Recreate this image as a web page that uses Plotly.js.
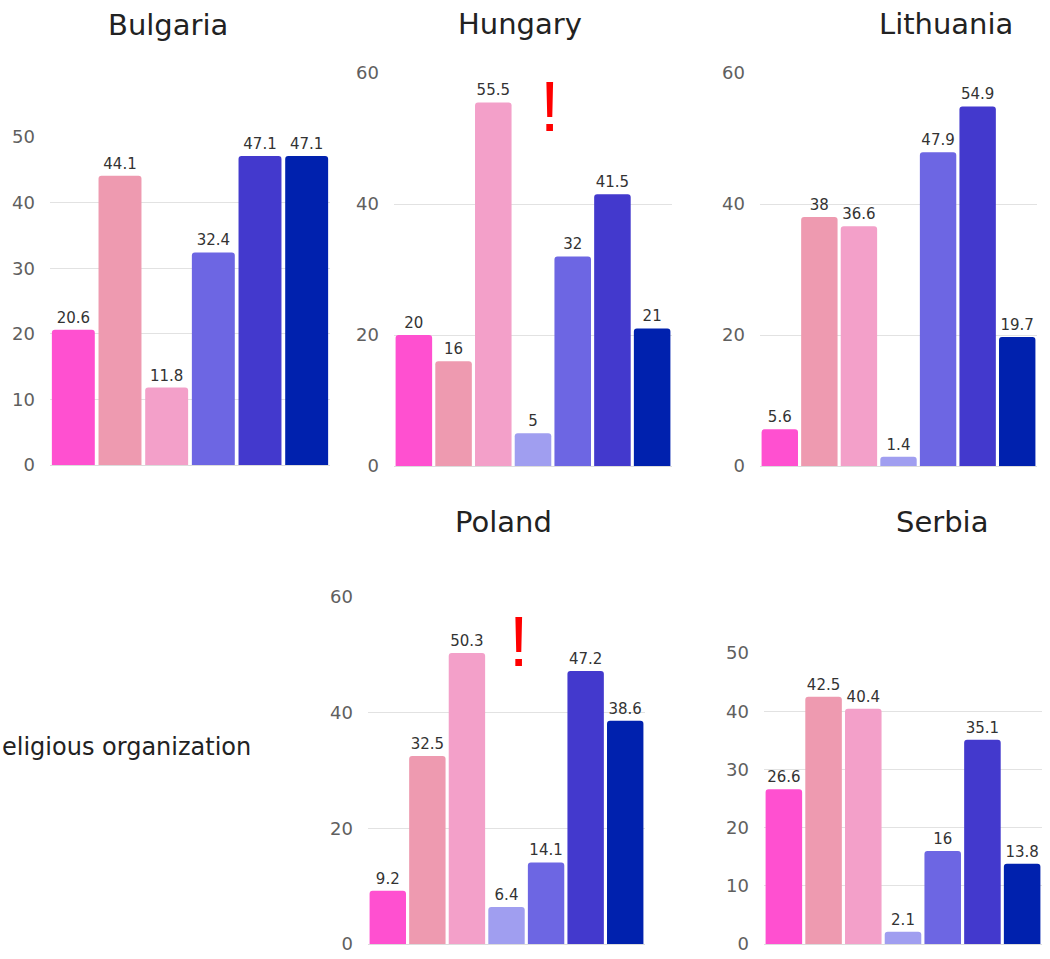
<!DOCTYPE html>
<html>
<head>
<meta charset="utf-8">
<script src="https://cdn.plot.ly/plotly-3.0.1.min.js"></script>
<style>html,body{margin:0;padding:0;background:#fff;}#chart{width:1050px;height:959px;}</style>
</head>
<body>
<div id="chart"></div>
<script>
// Data
const categories = ['Cat 1', 'Cat 2', 'Cat 3', 'Cat 4', 'Cat 5', 'Cat 6', 'Cat 7'];
const barColors = ['#FF50D0', '#EE9AB0', '#F3A0C9', '#A09EF0', '#6D66E3', '#4339CD', '#0021AE'];
const countries = ['Bulgaria', 'Hungary', 'Lithuania', 'Poland', 'Serbia'];
const bulgaria  = [20.6, 44.1, 11.8, null, 32.4, 47.1, 47.1];
const hungary   = [20, 16, 55.5, 5, 32, 41.5, 21];
const lithuania = [5.6, 38, 36.6, 1.4, 47.9, 54.9, 19.7];
const poland    = [9.2, 32.5, 50.3, 6.4, 14.1, 47.2, 38.6];
const serbia    = [26.6, 42.5, 40.4, 2.1, 16, 35.1, 13.8];
const yMax = [50, 60, 60, 60, 50];
const legendText = 'eligious organization';

const W = 1050, H = 959;
const fx = p => p / W;
const fy = p => (H - p) / H;

// panel boxes in pixels: [left, right, top(at yMax), bottom(0)]
const boxes = [
  [50, 330, 137, 465],
  [394, 672, 73, 466],
  [760, 1037, 73, 466],
  [368, 645, 597, 944],
  [764, 1042, 653, 944]
];
const titlePos = [[168, 25], [520, 24], [946, 24], [503, 522], [942, 522]];
const seriesList = [bulgaria, hungary, lithuania, poland, serbia];

const fontMain = 'Century Gothic, URW Gothic, DejaVu Sans, sans-serif';
const fontTick = 'Segoe UI, DejaVu Sans, sans-serif';

const traces = [];
const layout = {
  width: W, height: H,
  margin: {l: 0, r: 0, t: 0, b: 0},
  paper_bgcolor: '#fff', plot_bgcolor: '#fff',
  showlegend: false,
  bargap: 0.08,
  annotations: [],
  font: {family: fontMain}
};

seriesList.forEach((vals, i) => {
  const xs = [], ys = [], cs = [], ts = [];
  vals.forEach((v, j) => {
    if (v === null) return;
    xs.push(categories[j]); ys.push(v); cs.push(barColors[j]); ts.push(String(v));
  });
  const n = i === 0 ? '' : String(i + 1);
  traces.push({
    type: 'bar', x: xs, y: ys, xaxis: 'x' + n, yaxis: 'y' + n,
    marker: {color: cs, cornerradius: 3},
    text: ts, textposition: 'outside', cliponaxis: false,
    textfont: {family: fontMain, size: 15, color: '#333'},
    hoverinfo: 'x+y'
  });
  const b = boxes[i];
  layout['xaxis' + n] = {
    domain: [fx(b[0]), fx(b[1])], anchor: 'y' + n,
    showticklabels: false, showgrid: false, zeroline: false, showline: false,
    ticks: '', fixedrange: true
  };
  layout['yaxis' + n] = {
    domain: [fy(b[3]), fy(b[2])], anchor: 'x' + n,
    range: [0, yMax[i]], dtick: yMax[i] === 50 ? 10 : 20,
    showgrid: true, gridcolor: '#e2e2e2', gridwidth: 1,
    zeroline: true, zerolinecolor: '#dcdcdc',
    ticks: '', ticklabelstandoff: 14,
    tickfont: {family: fontTick, size: 18, color: '#5f5f5f'},
    fixedrange: true
  };
  layout.annotations.push({
    xref: 'paper', yref: 'paper', x: fx(titlePos[i][0]), y: fy(titlePos[i][1]),
    xanchor: 'center', yanchor: 'middle', showarrow: false,
    text: countries[i], font: {family: fontMain, size: 29, color: '#222'}
  });
});

// partial legend text
layout.annotations.push({
  xref: 'paper', yref: 'paper', x: 0, y: fy(747), xanchor: 'left', yanchor: 'middle',
  showarrow: false, text: legendText, font: {family: fontMain, size: 24, color: '#222'}
});
// red exclamation marks
[[549, 107], [518, 642]].forEach(p => {
  layout.annotations.push({
    xref: 'paper', yref: 'paper', x: fx(p[0]), y: fy(p[1]), xanchor: 'center', yanchor: 'middle',
    showarrow: false, text: '!', font: {family: 'Liberation Sans, Arial, sans-serif', size: 70, color: '#FF0000'}
  });
});

Plotly.newPlot('chart', traces, layout, {displayModeBar: false, staticPlot: true});
</script>
</body>
</html>
